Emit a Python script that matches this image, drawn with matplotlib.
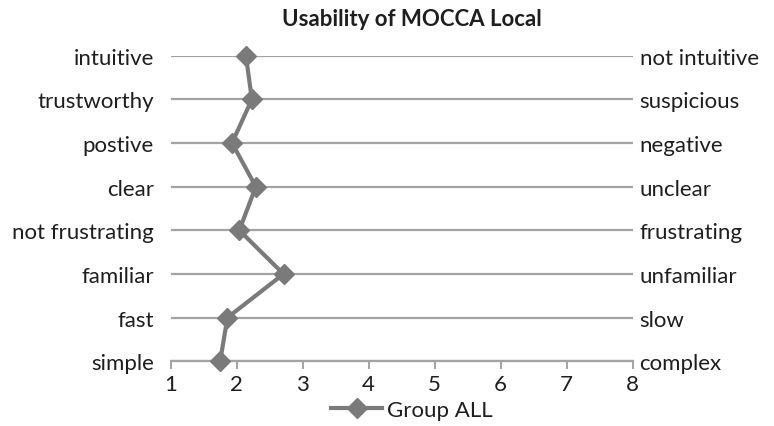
import matplotlib
matplotlib.use("Agg")
import matplotlib.pyplot as plt

plt.rcParams['font.family'] = ['Lato', 'DejaVu Sans']

# rows from bottom (y=1) to top (y=8)
left_labels = ['simple', 'fast', 'familiar', 'not frustrating', 'clear', 'postive', 'trustworthy', 'intuitive']
right_labels = ['complex', 'slow', 'unfamiliar', 'frustrating', 'unclear', 'negative', 'suspicious', 'not intuitive']
rows = [1, 2, 3, 4, 5, 6, 7, 8]
scores = [1.75, 1.86, 2.71, 2.04, 2.29, 1.93, 2.23, 2.14]
x_ticks = [1, 2, 3, 4, 5, 6, 7, 8]

fig = plt.figure(figsize=(7.74, 4.27), dpi=100)
ax = fig.add_axes([0.2205, 0.1515, 0.5969, 0.7157])

grid_col = '#a3a3a3'
line_col = '#7a7a7a'
text_col = '#1e1e1e'
fs = 16

for r in rows:
    ax.axhline(r, color=grid_col, lw=1.6, zorder=1)

ax.plot(scores, rows, color=line_col, lw=3, marker='D', markersize=10,
        markerfacecolor=line_col, markeredgecolor=line_col, label='Group ALL',
        zorder=3, clip_on=False)

ax.set_xlim(1, 8)
ax.set_ylim(1, 8)
ax.set_xticks(x_ticks)
ax.set_xticklabels([str(t) for t in x_ticks], fontsize=fs, color=text_col)
ax.tick_params(axis='x', direction='out', length=6, width=1.4, color=grid_col, pad=3)

ax.set_yticks(rows)
ax.set_yticklabels(left_labels, fontsize=fs, color=text_col)
ax.tick_params(axis='y', length=0, pad=12)

ax2 = ax.twinx()
ax2.set_ylim(1, 8)
ax2.set_yticks(rows)
ax2.set_yticklabels(right_labels, fontsize=fs, color=text_col)
ax2.tick_params(axis='y', length=0, pad=5)

for a in (ax, ax2):
    for s in a.spines.values():
        s.set_visible(False)
ax.spines['bottom'].set_visible(True)
ax.spines['bottom'].set_color(grid_col)
ax.spines['bottom'].set_linewidth(1.6)

fig.suptitle('Usability of MOCCA Local', x=0.532, y=0.978, fontsize=16, fontweight='bold', color=text_col)

ax.legend(loc='upper center', bbox_to_anchor=(0.522, -0.098), frameon=False, fontsize=fs,
          handlelength=2.3, handletextpad=0.2, borderaxespad=0, labelcolor=text_col)

fig.savefig('out.png', dpi=100, facecolor='white')
